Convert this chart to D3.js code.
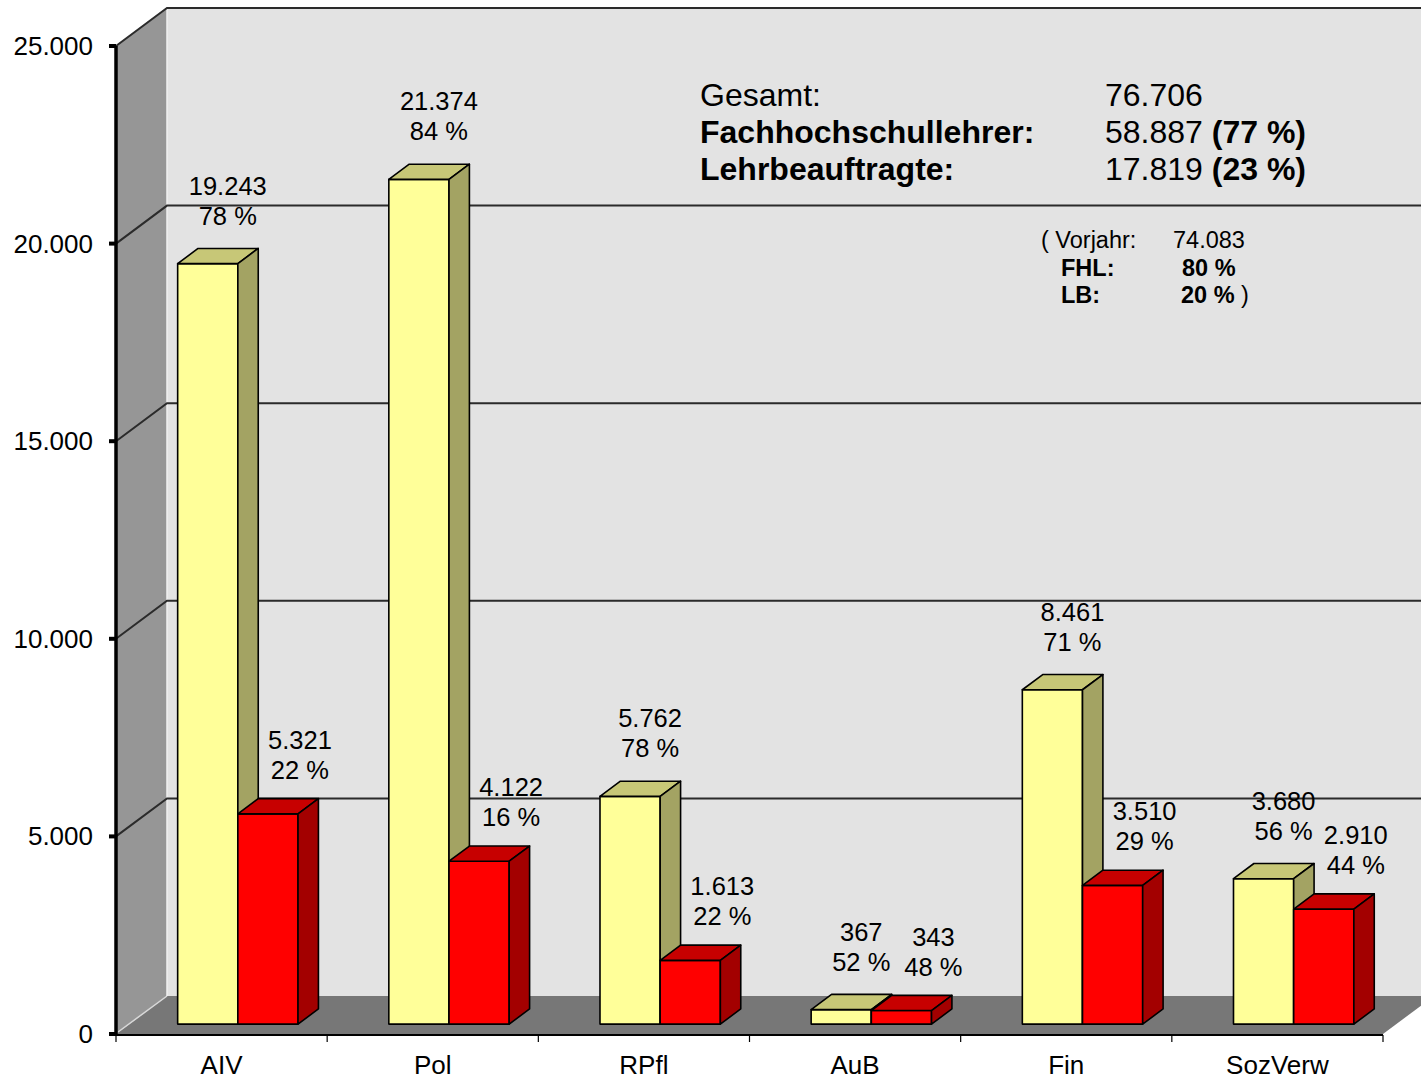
<!DOCTYPE html>
<html>
<head>
<meta charset="utf-8">
<script src="https://cdn.jsdelivr.net/npm/d3@7"></script>
<style>
  body { margin: 0; background: #fff; }
  svg { display: block; font-family: "Liberation Sans", Arial, sans-serif; }
</style>
</head>
<body>
<svg id="chart" width="1421" height="1079"></svg>
<script>
/** Chart data **/
var categories = ["AIV", "Pol", "RPfl", "AuB", "Fin", "SozVerw"];
var fhlValues  = [19243, 21374, 5762, 367, 8461, 3680];
var lbValues   = [5321, 4122, 1613, 343, 3510, 2910];
var fhlPct     = [78, 84, 78, 52, 71, 56];
var lbPct      = [22, 16, 22, 48, 29, 44];
var yTicks     = [0, 5000, 10000, 15000, 20000, 25000];
var prevTotal  = 74083;
var prevFhlPct = 80;
var prevLbPct  = 20;

var de = d3.formatLocale({decimal: ",", thousands: ".", grouping: [3], currency: ["", " €"]});
var fmt = de.format(",d");

/** Layout **/
var axisX0 = 116;          // front left of plot
var axisX1 = 1383;         // front right of plot
var baseY  = 1034;         // front floor line
var topY   = 46;
var depthX = 51, depthY = -38;     // full depth of the 3D box
var barFront = 0.26, barDepth = 0.4;

var col = {
    wall:   "#e3e3e3",
    side:   "#969696",
    floor:  "#777777",
    grid:   "#2b2b2b",
    fhl:    ["#ffff99", "#c7c777", "#a3a363"],   // front, top, side
    lb:     ["#ff0000", "#c70000", "#a30000"]
};
// label offset from the front face centre / top, per series
var labelShift = { fhl: [20, -39], lb: [32, -35] };

var svg = d3.select("#chart");

var yScale = d3.scaleLinear().domain([0, 25000]).range([baseY, topY]);
var xScale = d3.scaleBand().domain(categories).range([axisX0, axisX1])
    .paddingInner(0.43).paddingOuter(0.215);
var sScale = d3.scaleBand().domain(["fhl", "lb"]).range([0, xScale.bandwidth()]);

function pts(arr) { return arr.map(function(p) { return p.join(","); }).join(" "); }

// Walls and floor
var yMax = yScale(25000), y0 = yScale(0);
svg.append("polygon")
    .attr("points", pts([[axisX0 + depthX, yMax + depthY], [1500, yMax + depthY],
                         [1500, y0 + depthY], [axisX0 + depthX, y0 + depthY]]))
    .attr("fill", col.wall);
svg.append("polygon")
    .attr("points", pts([[axisX0, yMax], [axisX0 + depthX, yMax + depthY],
                         [axisX0 + depthX, y0 + depthY], [axisX0, y0]]))
    .attr("fill", col.side);
svg.append("polygon")
    .attr("points", pts([[axisX0, y0], [axisX0 + depthX, y0 + depthY],
                         [axisX1 + depthX, y0 + depthY], [axisX1, y0]]))
    .attr("fill", col.floor);

// light edges of the box
svg.append("line").attr("x1", axisX0 + 2).attr("y1", y0 - 2)
    .attr("x2", axisX0 + depthX).attr("y2", y0 + depthY)
    .attr("stroke", "#d8d8d8").attr("stroke-width", 1.5);
svg.append("line").attr("x1", axisX0 + depthX).attr("y1", y0 + depthY)
    .attr("x2", axisX0 + depthX).attr("y2", yMax + depthY)
    .attr("stroke", "#f0f0f0").attr("stroke-width", 1.5);
svg.append("line").attr("x1", axisX0 + 2).attr("y1", yMax - 2)
    .attr("x2", axisX0 + depthX).attr("y2", yMax + depthY)
    .attr("stroke", "#e8e8e8").attr("stroke-width", 1.5);

// Gridlines
var grid = svg.append("g");
yTicks.filter(function(d) { return d > 0; }).forEach(function(t) {
    var gy = yScale(t);
    grid.append("polyline")
        .attr("points", pts([[axisX0, gy], [axisX0 + depthX, gy + depthY], [1500, gy + depthY]]))
        .attr("fill", "none")
        .attr("stroke", col.grid)
        .attr("stroke-width", 2);
});

// Bars
var rows = categories.map(function(c, i) {
    return [
        {cat: c, key: "fhl", value: fhlValues[i], pct: fhlPct[i]},
        {cat: c, key: "lb",  value: lbValues[i],  pct: lbPct[i]}
    ];
});

var fdx = depthX * barFront + 3, fdy = depthY * barFront;
var bdx = depthX * barDepth, bdy = depthY * barDepth;
var bw = sScale.bandwidth();

var bars = svg.append("g");
rows.forEach(function(pair) {
    pair.forEach(function(d) {
        var x = xScale(d.cat) + sScale(d.key) + fdx;
        var yt = yScale(d.value) + fdy;
        var yb = yScale(0) + fdy;
        var c = col[d.key];
        var g = bars.append("g")
            .attr("stroke", "#000")
            .attr("stroke-width", 1.6)
            .attr("stroke-linejoin", "round");
        g.append("polygon")
            .attr("points", pts([[x, yt], [x + bw, yt], [x + bw, yb], [x, yb]]))
            .attr("fill", c[0]);
        g.append("polygon")
            .attr("points", pts([[x, yt], [x + bdx, yt + bdy], [x + bw + bdx, yt + bdy], [x + bw, yt]]))
            .attr("fill", c[1]);
        g.append("polygon")
            .attr("points", pts([[x + bw, yt], [x + bw + bdx, yt + bdy], [x + bw + bdx, yb + bdy], [x + bw, yb]]))
            .attr("fill", c[2]);
    });
});

// Bar labels
var labels = svg.append("g")
    .attr("font-size", 25.5)
    .attr("text-anchor", "middle")
    .attr("fill", "#000");
rows.forEach(function(pair) {
    pair.forEach(function(d) {
        var sh = labelShift[d.key];
        var cx = xScale(d.cat) + sScale(d.key) + bw / 2 + fdx + sh[0];
        var ty = yScale(d.value) + fdy + sh[1];
        labels.append("text").attr("x", cx).attr("y", ty - 30).text(fmt(d.value));
        labels.append("text").attr("x", cx).attr("y", ty).text(d.pct + " %");
    });
});

// Y axis
var yAxis = svg.append("g");
yAxis.append("line")
    .attr("x1", axisX0).attr("y1", yScale(25000))
    .attr("x2", axisX0).attr("y2", yScale(0) + 1)
    .attr("stroke", "#000").attr("stroke-width", 3.5);
yTicks.forEach(function(t) {
    yAxis.append("line")
        .attr("x1", axisX0 - 7).attr("x2", axisX0)
        .attr("y1", yScale(t)).attr("y2", yScale(t))
        .attr("stroke", "#000").attr("stroke-width", 4);
    yAxis.append("text")
        .attr("x", axisX0 - 23).attr("y", yScale(t) + 9)
        .attr("text-anchor", "end")
        .attr("font-size", 26)
        .text(fmt(t));
});

// X axis
var xAxis = svg.append("g");
xAxis.append("line")
    .attr("x1", axisX0).attr("x2", axisX1)
    .attr("y1", yScale(0) + 1).attr("y2", yScale(0) + 1)
    .attr("stroke", "#000").attr("stroke-width", 2);
var bounds = categories.map(function(c) { return xScale(c) - xScale.step() * 0.215; });
bounds.push(axisX1);
bounds.forEach(function(bx) {
    xAxis.append("line")
        .attr("x1", bx).attr("x2", bx)
        .attr("y1", yScale(0) + 1).attr("y2", yScale(0) + 8)
        .attr("stroke", "#000").attr("stroke-width", 1.2);
});
categories.forEach(function(c) {
    xAxis.append("text")
        .attr("x", xScale(c) + xScale.bandwidth() / 2)
        .attr("y", 1074)
        .attr("text-anchor", "middle")
        .attr("font-size", 26)
        .text(c);
});

// Summary text
var totFhl = d3.sum(fhlValues), totLb = d3.sum(lbValues), tot = totFhl + totLb;
var info = svg.append("g").attr("font-size", 32);
var rowsInfo = [
    ["Gesamt:", false, fmt(tot), null],
    ["Fachhochschullehrer:", true, fmt(totFhl) + " ", "(" + Math.round(totFhl / tot * 100) + " %)"],
    ["Lehrbeauftragte:", true, fmt(totLb) + " ", "(" + Math.round(totLb / tot * 100) + " %)"]
];
rowsInfo.forEach(function(r, i) {
    var yy = 106 + i * 37;
    info.append("text").attr("x", 700).attr("y", yy)
        .attr("font-weight", r[1] ? "bold" : "normal").text(r[0]);
    var t = info.append("text").attr("x", 1105).attr("y", yy);
    t.append("tspan").text(r[2]);
    if (r[3]) t.append("tspan").attr("font-weight", "bold").text(r[3]);
});

var prev = svg.append("g").attr("font-size", 23.5);
prev.append("text").attr("x", 1041).attr("y", 248).text("( Vorjahr:");
prev.append("text").attr("x", 1173).attr("y", 248).text(fmt(prevTotal));
prev.append("text").attr("x", 1061).attr("y", 276).attr("font-weight", "bold").text("FHL:");
prev.append("text").attr("x", 1182).attr("y", 276).attr("font-weight", "bold").text(prevFhlPct + " %");
prev.append("text").attr("x", 1061).attr("y", 303).attr("font-weight", "bold").text("LB:");
var lbT = prev.append("text").attr("x", 1181).attr("y", 303);
lbT.append("tspan").attr("font-weight", "bold").text(prevLbPct + " %");
lbT.append("tspan").text(" )");
</script>
</body>
</html>
